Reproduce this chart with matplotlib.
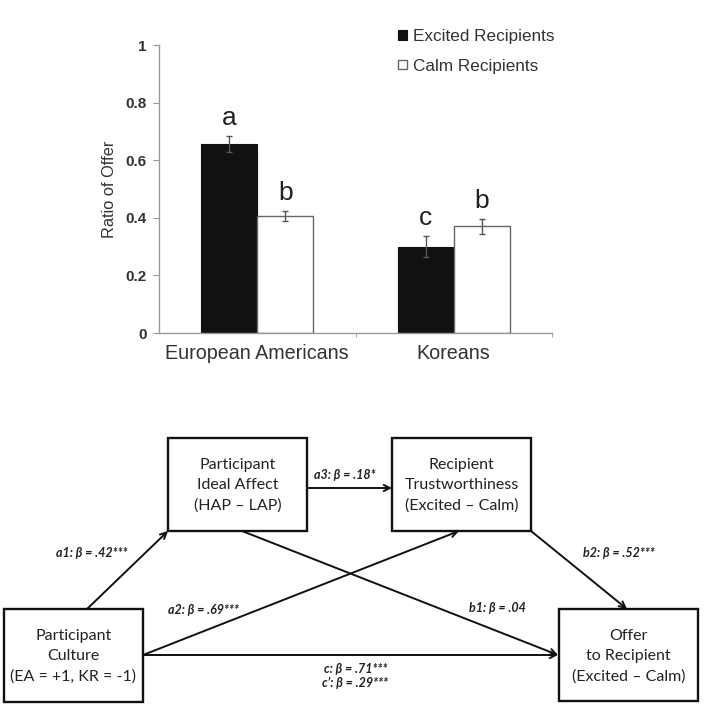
import matplotlib
matplotlib.use("Agg")
import matplotlib.pyplot as plt
from matplotlib.patches import Rectangle

# ---------------- data ----------------
categories = ["European Americans", "Koreans"]
excited = [0.655, 0.300]
calm = [0.406, 0.370]
excited_err = [0.028, 0.036]
calm_err = [0.018, 0.026]
excited_letters = ["a", "c"]
calm_letters = ["b", "b"]
yticks = [0, 0.2, 0.4, 0.6, 0.8, 1]
ytick_labels = ["0", "0.2", "0.4", "0.6", "0.8", "1"]
series_names = ["Excited Recipients", "Calm Recipients"]

# mediation diagram nodes: (label, x0, y0, x1, y1) in pixel layout
node_names = ["culture", "ideal", "trust", "offer"]
node_labels = ["Participant\nCulture\n(EA = +1, KR = -1)",
               "Participant\nIdeal Affect\n(HAP \u2013 LAP)",
               "Recipient\nTrustworthiness\n(Excited \u2013 Calm)",
               "Offer\nto Recipient\n(Excited \u2013 Calm)"]
node_boxes = [(4, 609, 143, 702), (168, 438, 307, 531),
              (392, 438, 531, 531), (559, 609, 698, 701)]
paths = ["a1", "a2", "a3", "b1", "b2", "c"]
path_labels = ["a1: \u03b2 = .42***", "a2: \u03b2 = .69***", "a3: \u03b2 = .18*",
               "b1: \u03b2 = .04", "b2: \u03b2 = .52***", "c: \u03b2 = .71***"]
cprime_label = "c\u2019: \u03b2 = .29***"

W, H = 704, 707
fig = plt.figure(figsize=(W / 100, H / 100), dpi=100)

# ---------------- bar chart ----------------
ax = fig.add_axes([159 / W, (H - 333) / H, 393 / W, 288 / H])
bw = 0.285
xs = list(range(len(categories)))
ex_x = [x - bw / 2 for x in xs]
ca_x = [x + bw / 2 for x in xs]
b1 = ax.bar(ex_x, excited, width=bw, color="#111111", edgecolor="#111111",
            linewidth=0.8, label=series_names[0], zorder=2)
b2 = ax.bar(ca_x, calm, width=bw, color="white", edgecolor="#666666",
            linewidth=1.0, label=series_names[1], zorder=2)
ax.errorbar(ex_x, excited, yerr=excited_err, fmt="none", ecolor="#555555",
            elinewidth=1.0, capsize=2.5, capthick=1.0, zorder=3)
ax.errorbar(ca_x, calm, yerr=calm_err, fmt="none", ecolor="#555555",
            elinewidth=1.0, capsize=2.5, capthick=1.0, zorder=3)
for x, v, e, t in zip(ex_x, excited, excited_err, excited_letters):
    ax.text(x, v + e + 0.022, t, ha="center", va="bottom", fontsize=19,
            family="Liberation Sans", color="#222222")
for x, v, e, t in zip(ca_x, calm, calm_err, calm_letters):
    ax.text(x, v + e + 0.022, t, ha="center", va="bottom", fontsize=19,
            family="Liberation Sans", color="#222222")

ax.set_xlim(-0.5, 1.5)
ax.set_ylim(0, 1)
ax.set_yticks(yticks)
ax.set_yticklabels(ytick_labels, family="Liberation Sans", fontsize=11,
                   fontweight="bold", color="#333333")
ax.set_xticks(xs)
ax.set_xticklabels(categories, family="Liberation Sans", fontsize=14.2,
                   color="#333333")
ax.set_xticks([0.5, 1.5], minor=True)
ax.tick_params(axis="x", which="major", length=0, pad=8)
ax.tick_params(axis="x", which="minor", length=3, color="#999999", direction="out")
ax.tick_params(axis="y", length=4, color="#999999", direction="out", pad=5)
for s in ["top", "right"]:
    ax.spines[s].set_visible(False)
for s in ["left", "bottom"]:
    ax.spines[s].set_color("#999999")
    ax.spines[s].set_linewidth(1.0)
ax.set_ylabel("Ratio of Offer", family="Liberation Sans", fontsize=11.8,
              color="#333333", labelpad=6)

leg = fig.legend(handles=[b1, b2], labels=series_names, loc="upper left",
                 bbox_to_anchor=(398 / W, 1 - 29 / H), frameon=False,
                 handlelength=0.5, handleheight=0.5, handletextpad=0.35,
                 labelspacing=0.85, borderpad=0, borderaxespad=0,
                 prop={"family": "Liberation Sans", "size": 12.3})
for t in leg.get_texts():
    t.set_color("#333333")

# ---------------- mediation diagram ----------------
ax2 = fig.add_axes([0, 0, 1, 1], zorder=-1)
ax2.set_xlim(0, W)
ax2.set_ylim(H, 0)
ax2.axis("off")
ax2.patch.set_alpha(0)

boxes = dict(zip(node_names, node_boxes))
for name, lab in zip(node_names, node_labels):
    x0, y0, x1, y1 = boxes[name]
    ax2.add_patch(Rectangle((x0, y0), x1 - x0, y1 - y0, fill=False,
                            edgecolor="#111111", linewidth=1.7))
    ax2.text((x0 + x1) / 2, (y0 + y1) / 2 + 1, lab, ha="center", va="center",
             family="Lato", fontsize=11.5, color="#222222", linespacing=1.55)

cu, ia, tr, of = (boxes[n] for n in node_names)
arrow_ends = {
    "a1": ((87, cu[1]), (ia[0], ia[3])),
    "a2": ((cu[2], 655), (459, tr[3])),
    "a3": ((ia[2], 488), (tr[0], 488)),
    "b1": ((242, ia[3]), (of[0] - 1, 655)),
    "b2": ((tr[2], tr[3]), (627, of[1])),
    "c": ((cu[2], 655), (of[0] - 1, 655)),
}
for p in paths:
    (sx, sy), (ex, ey) = arrow_ends[p]
    ax2.annotate("", xy=(ex, ey), xytext=(sx, sy),
                 arrowprops=dict(arrowstyle="->", lw=1.4, color="#111111",
                                 shrinkA=0, shrinkB=0, mutation_scale=11))

label_pos = {"a1": (92, 553, "center"), "a2": (203, 610, "center"),
             "a3": (345, 475, "center"), "b1": (497, 608, "center"),
             "b2": (619, 553, "center"), "c": (388, 669, "right")}
lab_kw = dict(family="Lato", style="italic", fontweight="bold", fontsize=9,
              color="#222222", va="center")
for p, t in zip(paths, path_labels):
    x, y, ha = label_pos[p]
    ax2.text(x, y, t, ha=ha, **lab_kw)
ax2.text(388, 683, cprime_label, ha="right", **lab_kw)

fig.savefig("out.png", dpi=100)
